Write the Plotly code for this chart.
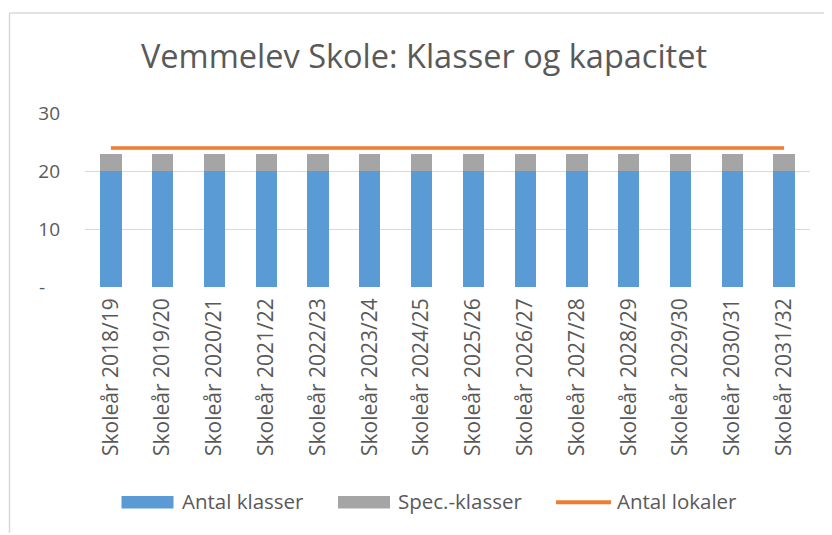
import plotly.graph_objects as go

categories = ["Skoleår 2018/19", "Skoleår 2019/20", "Skoleår 2020/21", "Skoleår 2021/22",
              "Skoleår 2022/23", "Skoleår 2023/24", "Skoleår 2024/25", "Skoleår 2025/26",
              "Skoleår 2026/27", "Skoleår 2027/28", "Skoleår 2028/29", "Skoleår 2029/30",
              "Skoleår 2030/31", "Skoleår 2031/32"]
antal_klasser = [20] * 14
spec_klasser = [3] * 14
antal_lokaler = [24] * 14
y_tickvals = [0, 10, 20, 30]
y_ticktext = ["-\u00a0\u00a0\u00a0", "10", "20", "30"]

BLUE, GRAY, ORANGE, TXT = "#5b9bd5", "#a5a5a5", "#ed7d31", "#595959"

fig = go.Figure()
fig.add_trace(go.Bar(x=categories, y=antal_klasser, name="Antal klasser",
                     marker=dict(color=BLUE, line=dict(width=0))))
fig.add_trace(go.Bar(x=categories, y=spec_klasser, name="Spec.-klasser",
                     marker=dict(color=GRAY, line=dict(width=0))))
fig.add_trace(go.Scatter(x=categories, y=antal_lokaler, name="Antal lokaler", mode="lines",
                         line=dict(color=ORANGE, width=3.5)))

# page body has an 8px offset; coordinates below are in reference pixels
OFF = 8
W, H = 832, 535
L = 85 - OFF
T = 113 - OFF
B = H - (287 - OFF)
R = W - (810 - OFF)
pw = W - L - R
ph = H - T - B


def px(x):
    return (x - OFF - L) / pw


def py(y):
    return (H - B - (y - OFF)) / ph


shapes = [
    dict(type="line", xref="paper", yref="paper", x0=px(9.5), x1=px(9.5), y0=py(533), y1=py(13),
         line=dict(color="#d9d9d9", width=1.5)),
    dict(type="line", xref="paper", yref="paper", x0=px(9.5), x1=px(840), y0=py(13), y1=py(13),
         line=dict(color="#d9d9d9", width=1.5)),
    # legend symbols
    dict(type="rect", xref="paper", yref="paper", x0=px(121.5), x1=px(173.5), y0=py(508.5), y1=py(496),
         fillcolor=BLUE, line=dict(width=0)),
    dict(type="rect", xref="paper", yref="paper", x0=px(338), x1=px(390), y0=py(508.5), y1=py(496),
         fillcolor=GRAY, line=dict(width=0)),
    dict(type="line", xref="paper", yref="paper", x0=px(556), x1=px(611), y0=py(502.3), y1=py(502.3),
         line=dict(color=ORANGE, width=4)),
]

legend_items = [("Antal klasser", 179.5), ("Spec.-klasser", 395.5), ("Antal lokaler", 614.5)]
annotations = [
    dict(text=t, xref="paper", yref="paper", x=px(x0), y=py(501), xanchor="left", yanchor="middle",
         showarrow=False, font=dict(size=20.5, color=TXT, family="Open Sans"))
    for t, x0 in legend_items
]

fig.update_layout(
    width=W, height=H,
    margin=dict(l=L, r=R, t=T, b=B, autoexpand=False),
    paper_bgcolor="white", plot_bgcolor="white",
    barmode="stack", bargap=0.59,
    font=dict(family="Open Sans", color=TXT),
    title=dict(text="Vemmelev Skole: Klasser og kapacitet", x=(424 - OFF) / W, xanchor="center",
               y=1 - (57 - OFF) / H, yanchor="middle",
               font=dict(size=32.5, color=TXT, family="Open Sans")),
    xaxis=dict(tickangle=-90, tickfont=dict(size=21, color=TXT), showgrid=False,
               showline=False, ticks="", ticklen=0, ticklabelstandoff=6),
    yaxis=dict(range=[0, 30.05], tickvals=y_tickvals, ticktext=y_ticktext,
               tickfont=dict(size=19, color=TXT), showgrid=True, gridcolor="#d9d9d9",
               gridwidth=1, zeroline=False, showline=False, ticks="", ticklabelstandoff=24),
    showlegend=False,
    shapes=shapes,
    annotations=annotations,
)

fig.write_html("out.html")
